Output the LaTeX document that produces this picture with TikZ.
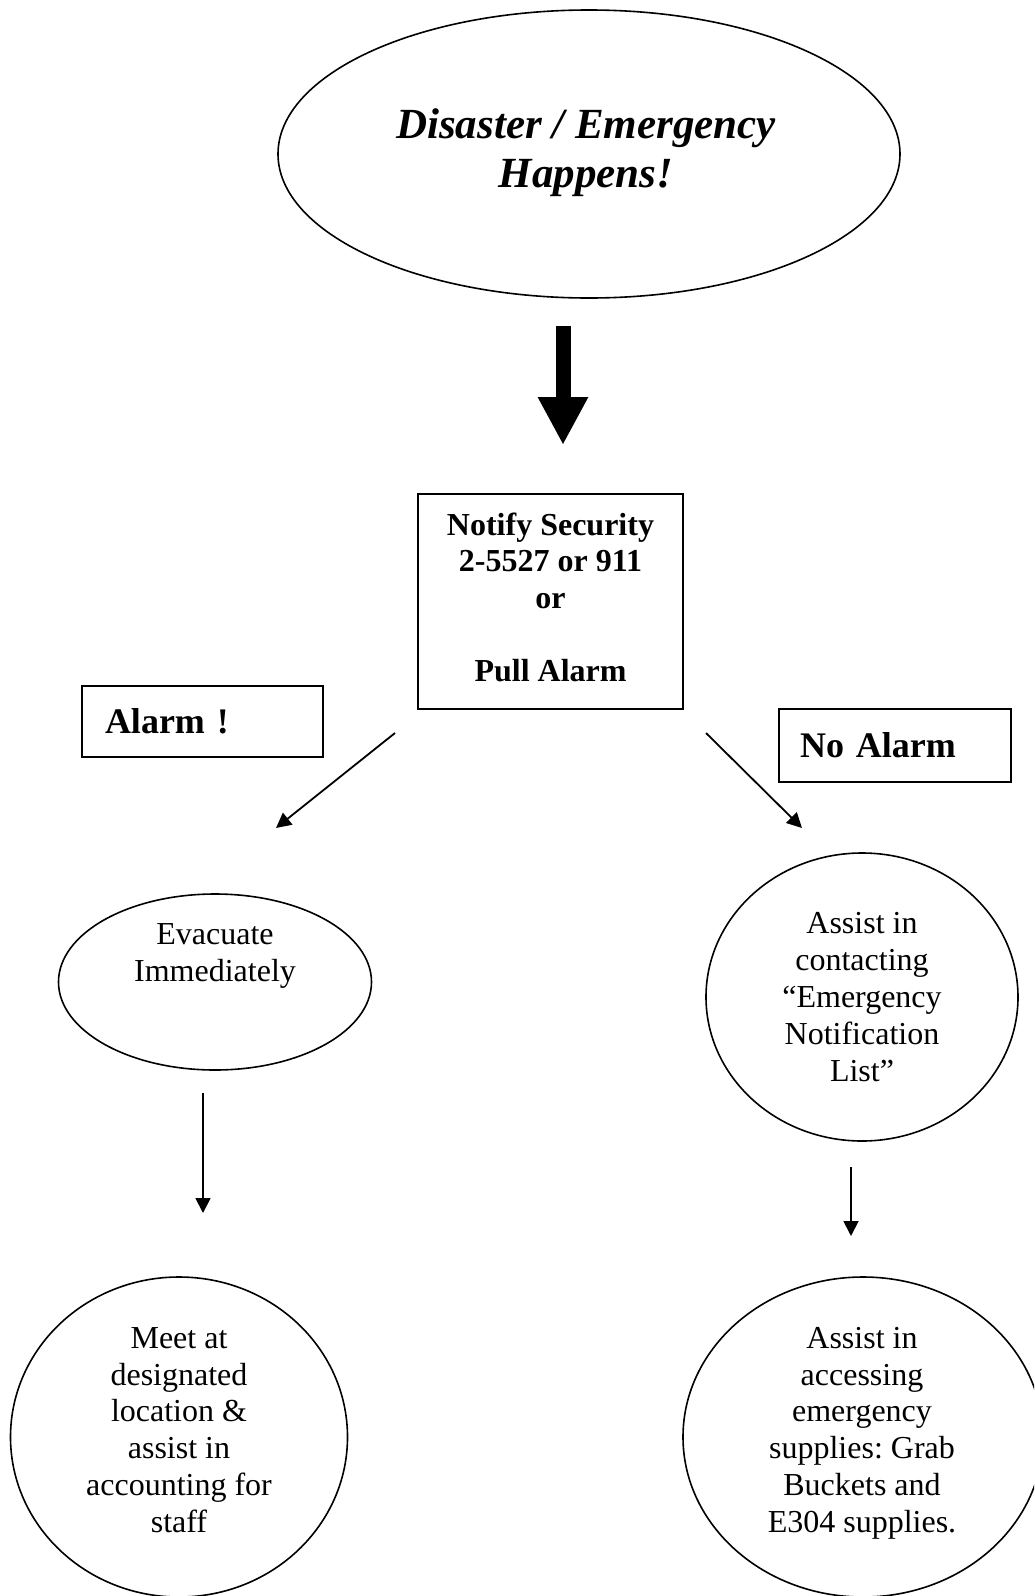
\documentclass[tikz,border=0pt]{standalone}
\usepackage{fontspec}
\setmainfont{Liberation Serif}
\usetikzlibrary{shapes.geometric,arrows.meta}
\frenchspacing

\begin{document}
\begin{tikzpicture}[x=0.5pt,y=-0.5pt,
  shapeline/.style={draw=black,line width=0.8pt},
  oval/.style={shapeline,ellipse,inner sep=0pt},
  boxed/.style={shapeline,rectangle},
  body/.style={align=center,inner sep=0pt,font=\fontsize{16}{18.4}\selectfont},
  labelbox/.style={boxed,align=left,inner ysep=0pt,font=\fontsize{18}{21}\selectfont\bfseries},
  flow/.style={line width=0.9pt,-{Triangle[length=7.5pt,width=7.5pt]}},
  bigflow/.style={line width=7.5pt,-{Triangle[length=24pt,width=23.5pt]}}
]
\useasboundingbox (0,0) rectangle (1034,1596);
\clip (0,0) rectangle (1034,1596);

% start event
\node[oval,minimum width=311pt,minimum height=144pt] (disaster) at (589,154) {};
\node[align=center,inner sep=0pt,font=\fontsize{21.5}{24.6}\selectfont\bfseries\itshape]
  (disastertext) at (586,153) {Disaster / Emergency\\Happens!};

% first action
\node[boxed,minimum width=132.5pt,minimum height=107.5pt] (notify) at (550.5,601.5) {};
\node[align=center,inner sep=0pt,font=\fontsize{16}{18.3}\selectfont\bfseries]
  (notifytext) at (550.5,597.5) {Notify Security\\2-5527 or 911\\or\\[18.3pt]Pull Alarm};

% branch labels
\node[labelbox,minimum height=35.5pt,inner xsep=11.5pt,text width=97.5pt]
  (alarm) at (202.5,721.5) {Alarm !};
\node[labelbox,minimum height=36.5pt,inner xsep=10.5pt,text width=95pt]
  (noalarm) at (895,745.5) {No Alarm};

% alarm branch
\node[oval,minimum width=156.5pt,minimum height=88pt] (evacuate) at (215,982) {};
\node[body] (evacuatetext) at (215,956) {Evacuate\\Immediately};
\node[oval,minimum width=168.5pt,minimum height=160pt] (meet) at (179,1437) {};
\node[body] (meettext) at (179,1430)
  {Meet at\\designated\\location \&\\assist in\\accounting for\\staff};

% no-alarm branch
\node[oval,minimum width=156pt,minimum height=144pt,body] (contact) at (862,997)
  {Assist in\\contacting\\“Emergency\\Notification\\List”};
\node[oval,minimum width=180pt,minimum height=160pt] (supplies) at (863,1437) {};
\node[body] (suppliestext) at (862,1433)
  {Assist in\\accessing\\emergency\\supplies: Grab\\Buckets and\\E304 supplies.};

% connector end points
\coordinate (bigtail) at (563,326);
\coordinate (bighead) at (563,445);
\coordinate (lefttail) at (395,733);
\coordinate (lefthead) at (276,828);
\coordinate (righttail) at (706,733);
\coordinate (righthead) at (802,828);
\coordinate (evactail) at (203,1093);
\coordinate (evachead) at (203,1213);
\coordinate (contacttail) at (851,1167);
\coordinate (contacthead) at (851,1236);

% connectors
\draw[bigflow] (bigtail) -- (bighead);
\draw[flow] (lefttail) -- (lefthead);
\draw[flow] (righttail) -- (righthead);
\draw[flow] (evactail) -- (evachead);
\draw[flow] (contacttail) -- (contacthead);
\end{tikzpicture}
\end{document}
